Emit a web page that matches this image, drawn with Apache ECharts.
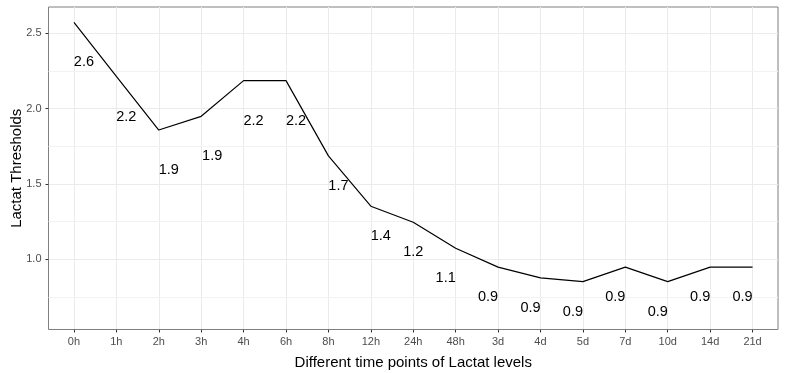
<!DOCTYPE html>
<html>
<head>
<meta charset="utf-8">
<script src="https://cdn.jsdelivr.net/npm/echarts@6/dist/echarts.min.js"></script>
<style>
html,body{margin:0;padding:0;background:#fff;}
#chart{width:786px;height:373px;}
</style>
</head>
<body>
<div id="chart"></div>
<script>
// ---- data ----
const categories = ['0h','1h','2h','3h','4h','6h','8h','12h','24h','48h','3d','4d','5d','7d','10d','14d','21d'];
const lactat = [2.573, 2.214, 1.858, 1.949, 2.186, 2.186, 1.686, 1.352, 1.245, 1.073, 0.947, 0.876, 0.851, 0.947, 0.851, 0.947, 0.947];
const pointLabels = ['2.6','2.2','1.9','1.9','2.2','2.2','1.7','1.4','1.2','1.1','0.9','0.9','0.9','0.9','0.9','0.9','0.9'];
const yTicks = [1.0, 1.5, 2.0, 2.5];
const yMinorGrid = [0.75, 1.25, 1.75, 2.25];

// ---- style: label pixel offsets from each point ----
const labelOffsets = [[10,40],[10,41],[10,40],[11,40],[10,40],[10,40],[10,30],[10,30],[0,30],[-10,30],[-10,30],[-10,30],[-10,30],[-10,30],[-10,30],[-10,30],[-10,30]];

const FONT = '"Liberation Sans", Arial, Helvetica, sans-serif';
const xIdx = categories.map((c, i) => i);
const chart = echarts.init(document.getElementById('chart'), null, {renderer: 'canvas'});

const seriesData = lactat.map((v, i) => ({
  value: [i, v],
  label: {offset: labelOffsets[i]}
}));

chart.setOption({
  animation: false,
  backgroundColor: '#ffffff',
  grid: {left: 48.5, right: 8, top: 7, bottom: 43.5, containLabel: false, outerBoundsMode: 'none',
         show: true, borderColor: '#7f7f7f', borderWidth: 1, backgroundColor: 'transparent'},
  xAxis: {
    type: 'value', min: -0.6, max: categories.length - 1 + 0.6,
    name: 'Different time points of Lactat levels', nameLocation: 'middle', nameGap: 26, nameMoveOverlap: false,
    nameTextStyle: {fontFamily: FONT, fontSize: 15, color: '#000'},
    axisLine: {show: false, onZero: false},
    axisTick: {show: true, length: 3, customValues: xIdx, lineStyle: {color: '#333', width: 1}},
    axisLabel: {customValues: xIdx, formatter: v => categories[Math.round(v)] || '',
                fontFamily: FONT, fontSize: 11, color: '#4d4d4d', margin: 7},
    splitLine: {show: true, lineStyle: {color: '#ebebeb', width: 1}}
  },
  yAxis: {
    type: 'value', min: 0.533, max: 2.675, position: 'left',
    name: 'Lactat Thresholds', nameLocation: 'middle', nameGap: 24, nameRotate: 90, nameMoveOverlap: false,
    nameTextStyle: {fontFamily: FONT, fontSize: 15, color: '#000'},
    axisLine: {show: false, onZero: false},
    axisTick: {show: true, length: 3, customValues: yTicks, lineStyle: {color: '#333', width: 1}},
    axisLabel: {customValues: yTicks, formatter: v => v.toFixed(1),
                fontFamily: FONT, fontSize: 11, color: '#4d4d4d', margin: 7},
    splitLine: {show: true, lineStyle: {color: '#ebebeb', width: 1}}
  },
  series: [{
    type: 'line',
    data: seriesData,
    showSymbol: true,
    symbol: 'circle',
    symbolSize: 0.01,
    itemStyle: {color: '#000'},
    lineStyle: {color: '#000', width: 1.2},
    label: {
      show: true, position: 'inside',
      formatter: p => pointLabels[p.dataIndex],
      fontFamily: FONT, fontSize: 14.5, color: '#000'
    },
    markLine: {
      silent: true, symbol: 'none', z: 1,
      label: {show: false},
      lineStyle: {color: '#f2f2f2', width: 1, type: 'solid'},
      emphasis: {disabled: true},
      data: yMinorGrid.map(v => ({yAxis: v}))
    },
    z: 5
  }]
});
</script>
</body>
</html>
